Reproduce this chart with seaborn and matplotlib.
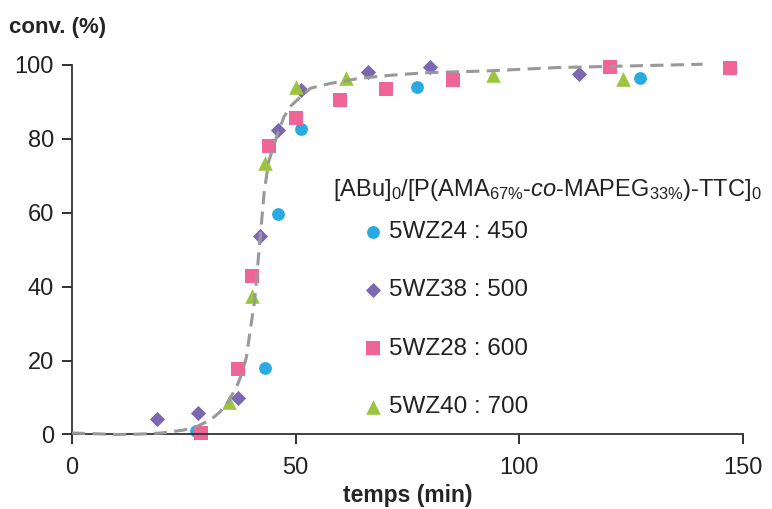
import seaborn as sns
import pandas as pd
import matplotlib.pyplot as plt

# data
wz24_t = [27.7, 43.1, 46.1, 51.1, 77.1, 127.1]
wz24_c = [1.0, 17.9, 59.7, 82.7, 94.1, 96.6]

wz38_t = [19.0, 28.1, 37.1, 42.1, 46.1, 51.2, 66.1, 80.1, 113.3]
wz38_c = [4.1, 5.9, 9.8, 53.6, 82.5, 93.2, 98.1, 99.5, 97.5]

wz28_t = [28.9, 37.2, 40.2, 44.0, 50.1, 60.0, 70.1, 85.1, 120.3, 147.2]
wz28_c = [0.5, 17.6, 42.9, 78.0, 85.7, 90.5, 93.4, 95.9, 99.5, 99.2]

wz40_t = [35.1, 40.2, 43.1, 50.1, 61.3, 94.2, 123.3]
wz40_c = [8.9, 37.4, 73.5, 94.1, 96.5, 97.4, 96.3]

# fitted curve (dashed)
fit_t = [0, 5, 10, 15, 20, 25, 28, 31, 33, 35, 37, 38, 39, 39.7, 40.8, 41.9,
         43, 44, 46, 47.4, 49, 51.1, 53.3, 57.7, 64.3, 72, 79, 92.9, 108.3, 122.9, 141]
fit_c = [0.4, 0.2, 0.0, 0.1, 0.4, 1.2, 2.2, 4.0, 6.0, 9.0, 13.5, 16.5, 21, 27, 36, 51,
         66, 74, 81.5, 86, 89, 91.4, 93.7, 95.0, 96.4, 97.3, 97.9, 98.4, 99.3, 99.7, 100.2]

series = [
    ("5WZ24 : 450", wz24_t, wz24_c, "o", "#29abe2", 85),
    ("5WZ38 : 500", wz38_t, wz38_c, "D", "#7b68b0", 60),
    ("5WZ28 : 600", wz28_t, wz28_c, "s", "#f06597", 95),
    ("5WZ40 : 700", wz40_t, wz40_c, "^", "#9bc53d", 110),
]

sns.set_style("white")
plt.rcParams['font.family'] = ['Liberation Sans', 'DejaVu Sans']
plt.rcParams['mathtext.fontset'] = 'custom'
plt.rcParams['mathtext.rm'] = 'Liberation Sans'
plt.rcParams['mathtext.it'] = 'Liberation Sans:italic'
plt.rcParams['mathtext.bf'] = 'Liberation Sans:bold'

fig = plt.figure(figsize=(7.72, 5.09), dpi=100)
ax = fig.add_axes([0.0933, 0.1464, 0.869, 0.7259])

fit = pd.DataFrame({"t": fit_t, "c": fit_c})
sns.lineplot(data=fit, x="t", y="c", ax=ax, color="#999999", lw=2.2,
             linestyle=(0, (4.3, 2.4)), zorder=3, clip_on=False)

for label, t, c, m, col, s in series:
    df = pd.DataFrame({"t": t, "c": c})
    sns.scatterplot(data=df, x="t", y="c", ax=ax, marker=m, color=col, s=s,
                    linewidth=0, label=label, zorder=2, clip_on=False)

ax.set_xlim(0, 150)
ax.set_ylim(0, 100)
ax.set_xticks([0, 50, 100, 150])
ax.set_yticks([0, 20, 40, 60, 80, 100])
sns.despine(ax=ax)
for sp in ["left", "bottom"]:
    ax.spines[sp].set_color("#333333")
    ax.spines[sp].set_linewidth(1.3)
ax.tick_params(axis="both", labelsize=17, colors="#222222", length=7, width=1.3,
               direction="out")
ax.tick_params(axis="x", pad=9)
ax.tick_params(axis="y", pad=6)
ax.tick_params(left=True, bottom=True)
ax.set_xlabel("temps (min)", fontsize=16.5, fontweight="bold", labelpad=4)
ax.set_ylabel("")
fig.text(0.012, 0.945, "conv. (%)", fontsize=16, fontweight="bold", va="center")

fig.text(0.431, 0.627,
         r"[ABu]$_0$/[P(AMA$_{67\%}$-$\mathit{co}$-MAPEG$_{33\%}$)-TTC]$_0$",
         fontsize=17.0, color="#222222", va="center")

leg = ax.legend(loc="upper left", bbox_to_anchor=(0.438, 0.578), frameon=False,
                fontsize=17.5, handlelength=0.6, handletextpad=0.35,
                labelspacing=1.5, borderpad=0, borderaxespad=0)
for txt in leg.get_texts():
    txt.set_color("#222222")

fig.savefig("out.png", dpi=100)
